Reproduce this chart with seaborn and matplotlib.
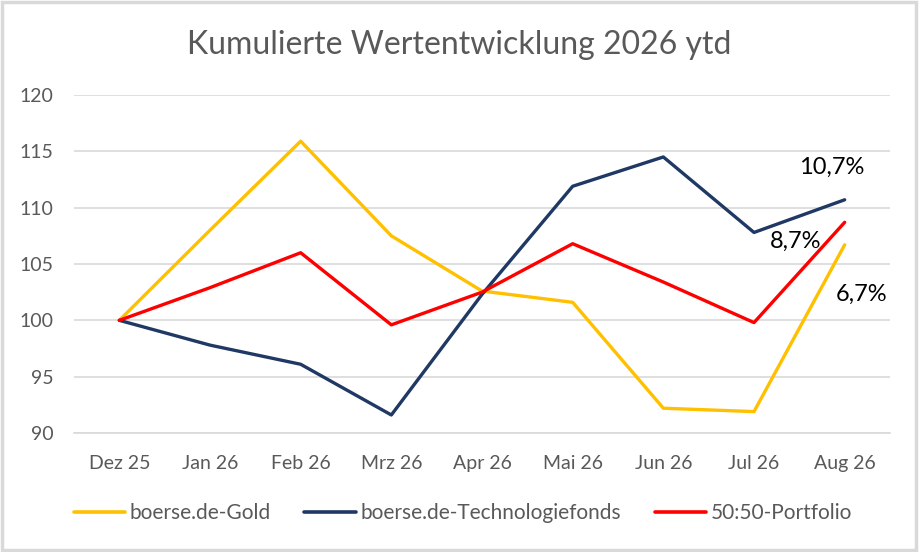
import pandas as pd
import matplotlib.pyplot as plt
import seaborn as sns
from matplotlib.patches import Rectangle

months = ["Dez 25", "Jan 26", "Feb 26", "Mrz 26", "Apr 26", "Mai 26", "Jun 26", "Jul 26", "Aug 26"]
gold = [100, 108.0, 115.9, 107.5, 102.6, 101.6, 92.2, 91.9, 106.7]
tech = [100, 97.8, 96.1, 91.6, 102.3, 111.9, 114.5, 107.8, 110.7]
portfolio = [100, 102.9, 106.0, 99.6, 102.5, 106.8, 103.4, 99.8, 108.7]

series_names = ["boerse.de-Gold", "boerse.de-Technologiefonds", "50:50-Portfolio"]
colors = ["#FFC000", "#1F3864", "#FF0000"]
end_labels = ["6,7%", "10,7%", "8,7%"]

df = pd.DataFrame({
    "Monat": months * 3,
    "x": list(range(len(months))) * 3,
    "Wert": gold + tech + portfolio,
    "Serie": [series_names[0]] * 9 + [series_names[1]] * 9 + [series_names[2]] * 9,
})

sns.set_style("white")
plt.rcParams["font.family"] = ["Lato", "DejaVu Sans"]
grey = "#595959"

fig = plt.figure(figsize=(9.19, 5.52), dpi=100)
ax = fig.add_axes([74 / 919, 1 - 433 / 552, (890 - 74) / 919, (433 - 95) / 552])

sns.lineplot(data=df, x="x", y="Wert", hue="Serie", hue_order=series_names,
             palette=colors, linewidth=2.4, legend=False, ax=ax)

ax.set_xlim(-0.5, len(months) - 0.5)
ax.set_ylim(90, 120)
ax.set_yticks(range(90, 121, 5))
ax.set_xticks(range(len(months)))
ax.set_xticklabels(months)
ax.set_xticks([i - 0.5 for i in range(len(months) + 1)], minor=True)
ax.tick_params(axis="x", which="major", length=0, pad=16, labelsize=14, labelcolor=grey)
ax.tick_params(axis="x", which="minor", length=6, color="#D9D9D9", width=1.2)
ax.tick_params(axis="y", length=0, pad=15, labelsize=14, labelcolor=grey)
ax.set_xlabel("")
ax.set_ylabel("")
ax.grid(axis="y", color="#D9D9D9", linewidth=1.2)
ax.set_axisbelow(True)
for side in ["top", "right", "left"]:
    ax.spines[side].set_visible(False)
ax.spines["bottom"].set_color("#D9D9D9")
ax.spines["bottom"].set_linewidth(1.2)

# end-of-line labels
ax.text(8.19, 102.3, end_labels[0], fontsize=17, color="black", ha="center", va="center")
ax.text(7.86, 113.6, end_labels[1], fontsize=17, color="black", ha="center", va="center")
ax.text(7.46, 107.0, end_labels[2], fontsize=17, color="black", ha="center", va="center")

fig.text(0.5, 1 - 45 / 552, "Kumulierte Wertentwicklung 2026 ytd", fontsize=23,
         color=grey, ha="center", va="center")

handles = [plt.Line2D([], [], color=c, linewidth=2.6) for c in colors]
fig.legend(handles, series_names, loc="center", bbox_to_anchor=(463 / 919, 1 - 513 / 552),
           ncol=3, frameon=False, fontsize=15, labelcolor=grey,
           handlelength=2.45, columnspacing=1.6, handletextpad=0.25)

fig.patches.append(Rectangle((0.002, 0.003), 0.995, 0.994, transform=fig.transFigure,
                             fill=False, edgecolor="#D9D9D9", linewidth=2.5))

fig.savefig("out.png", dpi=100)
